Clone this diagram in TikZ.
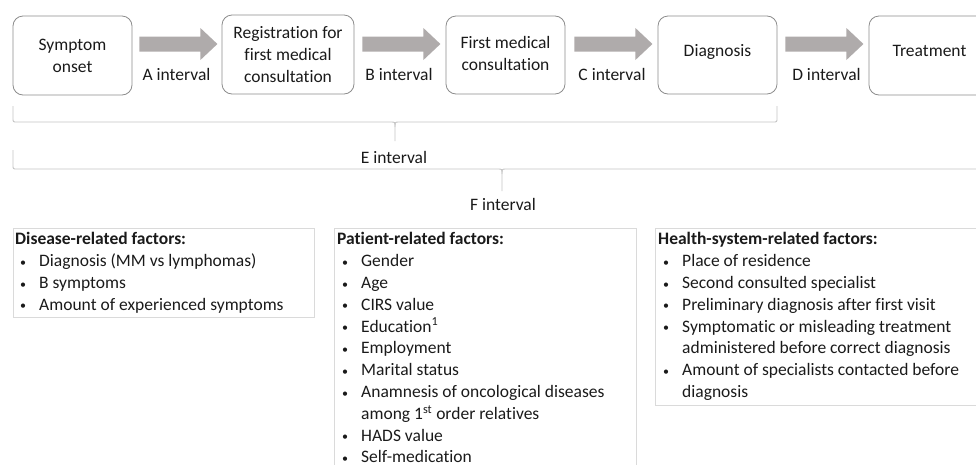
\documentclass[tikz,border=0pt]{standalone}
\usepackage{fontspec}
\setmainfont{Carlito}[Ligatures=NoCommon]
\definecolor{txt}{HTML}{1A1A1A}
\definecolor{boxgray}{HTML}{8C8C8C}
\definecolor{arrowfill}{HTML}{AFABAB}
\definecolor{bracegray}{HTML}{C4C4C4}
\definecolor{fboxgray}{HTML}{DADADA}
\newcommand\mainsize{\fontsize{17.5pt}{21.8pt}\selectfont}
\newcommand\smallbul{\raisebox{0.5pt}{\fontsize{12pt}{12pt}\selectfont •}}
\newcommand\itm[1]{\hspace*{5pt}\makebox[19pt][l]{\smallbul}#1}
\newcommand\cnt[1]{\hspace*{24pt}#1}
\begin{document}
\begin{tikzpicture}[x=1pt,y=-1pt,
  stage/.style={draw=boxgray, line width=0.8pt, rounded corners=10pt, align=center, inner sep=0pt, font=\mainsize, text=txt},
  lbl/.style={font=\mainsize, text=txt, inner sep=0pt, anchor=base},
  brace/.style={draw=bracegray, line width=0.9pt},
  fbox/.style={draw=fboxgray, line width=0.8pt, inner sep=0pt, anchor=north west},
  ftext/.style={font=\mainsize, text=txt, align=left, inner sep=0pt, anchor=north west},
  pics/blockarr/.style={code={\fill[arrowfill] (0,-7.5) -- (61,-7.5) -- (61,-16) -- (78,0) -- (61,16) -- (61,7.5) -- (0,7.5) -- cycle;}}
]
\useasboundingbox (0,0) rectangle (976,464);
\clip (0,0) rectangle (976,464);

% stages
\node[stage, minimum width=119pt, minimum height=79pt] (s1) at (72.5,55.5) {Symptom\\onset};
\node[stage, minimum width=132pt, minimum height=79pt] (s2) at (288,54.5) {Registration for\\first medical\\consultation};
\node[stage, minimum width=119pt, minimum height=78pt] (s3) at (505.5,55) {\raisebox{2pt}{\begin{tabular}{@{}c@{}}First medical\\consultation\end{tabular}}};
\node[stage, minimum width=119pt, minimum height=78pt] (s4) at (717.5,55) {\raisebox{9pt}{Diagnosis}};
\node[stage, minimum width=121pt, minimum height=79pt] (s5) at (929.5,55.5) {\raisebox{9pt}{Treatment}};

% block arrows
\path (s1.east) ++(7,-11.5) pic {blockarr};
\path (s2.east) ++(8,-10.5) pic {blockarr};
\path (s3.east) ++(9,-11) pic {blockarr};
\path (s4.east) ++(8,-11) pic {blockarr};

% interval labels
\node[lbl] (la) at (176.5,80) {A interval};
\node[lbl] (lb) at (399,80) {B interval};
\node[lbl] (lc) at (612,80) {C interval};
\node[lbl] (ld) at (826.5,80) {D interval};

% E brace
\draw[brace] (13,106) -- (13,118) .. controls (13,122) .. (17,122) -- (391,122) .. controls (395,122) .. (395,127) -- (395,141);
\draw[brace] (395,127) .. controls (395,122) .. (399,122) -- (773,122) .. controls (777,122) .. (777,118) -- (777,106);
\node[lbl] (le) at (394,163) {E interval};

% F brace
\draw[brace] (13,150) -- (13,165) .. controls (13,169) .. (17,169) -- (498,169) .. controls (502,169) .. (502,174) -- (502,191);
\draw[brace] (502,174) .. controls (502,169) .. (506,169) -- (987,169) .. controls (991,169) .. (991,165) -- (991,150);
\node[lbl] (lf) at (503,210) {F interval};

% factor boxes
\node[fbox, minimum width=301pt, minimum height=89pt] (dbox) at (13,228) {};
\node[fbox, minimum width=302pt, minimum height=250pt] (pbox) at (334,228) {};
\node[fbox, minimum width=335pt, minimum height=177pt] (hbox) at (655,228) {};

\node[ftext] (dtext) at (15,229.5) {\strut\textbf{Disease-related factors:}\\
\itm{Diagnosis (MM vs lymphomas)}\\
\itm{B symptoms}\\
\itm{Amount of experienced symptoms}};

\node[ftext] (ptext) at (337,229.5) {\strut\textbf{Patient-related factors:}\\
\itm{Gender}\\
\itm{Age}\\
\itm{CIRS value}\\
\itm{Education\textsuperscript{1}}\\
\itm{Employment}\\
\itm{Marital status}\\
\itm{Anamnesis of oncological diseases}\\
\cnt{among 1\textsuperscript{st} order relatives}\\
\itm{HADS value}\\
\itm{Self-medication}};

\node[ftext] (htext) at (658,229.5) {\strut\textbf{Health-system-related factors:}\\
\itm{Place of residence}\\
\itm{Second consulted specialist}\\
\itm{Preliminary diagnosis after first visit}\\
\itm{Symptomatic or misleading treatment}\\
\cnt{administered before correct diagnosis}\\
\itm{Amount of specialists contacted before}\\
\cnt{diagnosis}};
\end{tikzpicture}
\end{document}
